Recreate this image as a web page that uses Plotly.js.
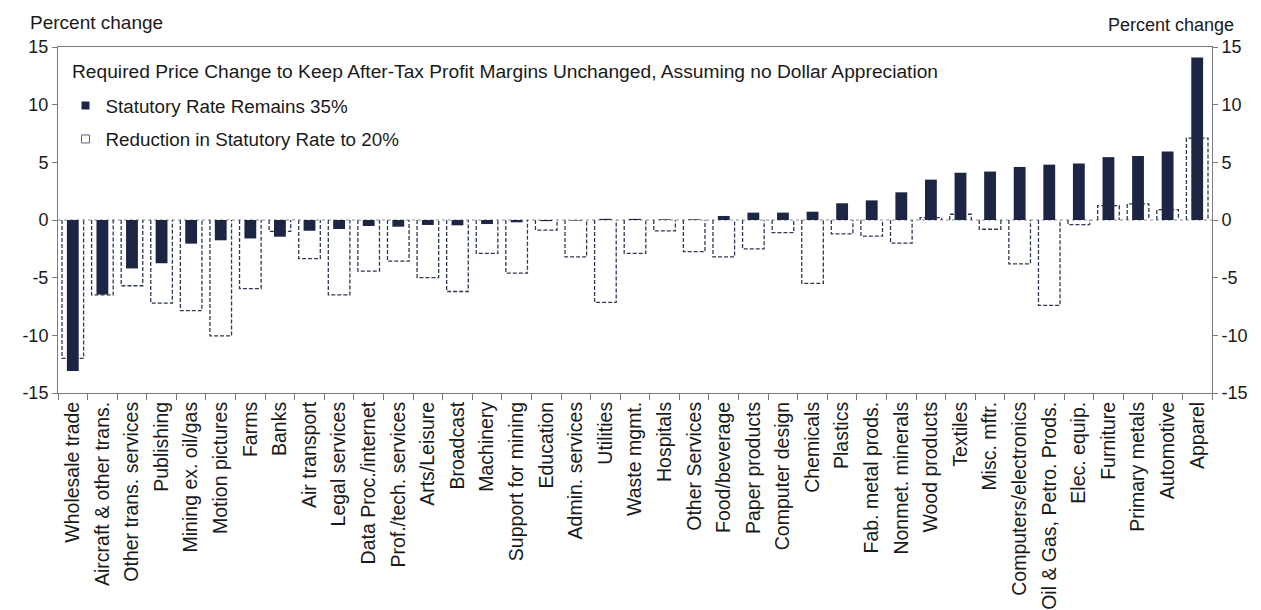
<!DOCTYPE html>
<html>
<head>
<meta charset="utf-8">
<script src="https://cdn.plot.ly/plotly-3.0.1.min.js"></script>
<style>html,body{margin:0;padding:0;background:#fff;}#chart{width:1261px;height:610px;}</style>
</head>
<body>
<div id="chart"></div>
<script>
const categories = ["Wholesale trade","Aircraft & other trans.","Other trans. services","Publishing","Mining ex. oil/gas","Motion pictures","Farms","Banks","Air transport","Legal services","Data Proc./internet","Prof./tech. services","Arts/Leisure","Broadcast","Machinery","Support for mining","Education","Admin. services","Utilities","Waste mgmt.","Hospitals","Other Services","Food/beverage","Paper products","Computer design","Chemicals","Plastics","Fab. metal prods.","Nonmet. minerals","Wood products","Textiles","Misc. mftr.","Computers/electronics","Oil & Gas, Petro. Prods.","Elec. equip.","Furniture","Primary metals","Automotive","Apparel"];

const rate35 = [-13.1,-6.45,-4.2,-3.75,-2.05,-1.76,-1.6,-1.45,-0.93,-0.78,-0.52,-0.58,-0.43,-0.46,-0.35,-0.2,-0.1,-0.05,0.1,0.1,0.06,0.06,0.35,0.64,0.64,0.72,1.45,1.7,2.4,3.5,4.1,4.2,4.6,4.8,4.9,5.45,5.55,5.95,14.1];

const rate20 = [-12.0,-6.5,-5.7,-7.2,-7.85,-10.05,-5.95,-0.98,-3.35,-6.5,-4.43,-3.57,-5.0,-6.2,-2.9,-4.6,-0.87,-3.2,-7.15,-2.9,-0.95,-2.75,-3.2,-2.5,-1.1,-5.5,-1.2,-1.4,-2.0,0.2,0.5,-0.8,-3.8,-7.4,-0.4,1.25,1.4,0.9,7.1];

const yTickVals = [-15,-10,-5,0,5,10,15];
const yTickText = ["-15","-10","-5","0","5","10","15"];

const seriesNames = ["Statutory Rate Remains 35%","Reduction in Statutory Rate to 20%"];

const navy = "#1d2545";
const dashColor = "#2f3956";
const idx = categories.map((c,i)=>i);

// dashed outline bars (reduction to 20%), built from rate20
const halfW = 0.365;
const ox = [], oy = [];
rate20.forEach((v,i)=>{
  ox.push(i-halfW, i-halfW, i+halfW, i+halfW, null);
  oy.push(0, v, v, 0, null);
});

const traces = [
  {type:"scatter", mode:"lines", x:ox, y:oy, xaxis:"x", yaxis:"y",
   line:{color:dashColor, width:1.3, dash:"4px,2px"}, showlegend:false, hoverinfo:"skip", name:seriesNames[1]},
  {type:"bar", x:idx, y:rate35, xaxis:"x2", yaxis:"y2", width:0.4,
   marker:{color:navy, line:{width:0}}, showlegend:false, name:seriesNames[0],
   customdata:categories, hovertemplate:"%{customdata}: %{y}<extra></extra>"},
  {type:"scatter", mode:"markers", x:[null], y:[null], xaxis:"x", yaxis:"y", name:seriesNames[0],
   marker:{symbol:"square", size:8, color:navy}, legendgroup:"a"},
  {type:"scatter", mode:"markers", x:[null], y:[null], xaxis:"x", yaxis:"y", name:seriesNames[1],
   marker:{symbol:"square-open", size:8, color:"#5a6380", line:{width:1}}, legendgroup:"b"}
];

const font = {family:"'Liberation Sans', Arial, sans-serif", color:"#1a1a1a"};
const axisColor = "#7a7a7a";
const xr = [-0.5, categories.length-0.5];

const layout = {
  width:1261, height:610,
  margin:{l:58, r:49, t:47, b:217},
  paper_bgcolor:"#fff", plot_bgcolor:"#fff",
  font:Object.assign({size:17}, font),
  showlegend:true,
  legend:{x:0.0065, y:0.885, xanchor:"left", yanchor:"top", bgcolor:"rgba(0,0,0,0)",
          font:Object.assign({size:18.8}, font), tracegroupgap:6, itemwidth:30},
  xaxis:{range:xr, tickvals:idx, ticktext:categories, tickangle:-90, ticks:"",
         showline:true, mirror:true, linecolor:axisColor, linewidth:1, showgrid:false, zeroline:false,
         tickfont:Object.assign({size:19.5}, font), fixedrange:true,
         minor:{tickmode:"linear", tick0:-0.5, dtick:1, ticks:"outside", ticklen:6, tickcolor:axisColor, showgrid:false}},
  xaxis2:{range:xr, overlaying:"x", visible:false, fixedrange:true},
  yaxis:{range:[-15,15], tickvals:yTickVals, ticktext:yTickText, ticks:"outside", ticklen:5, tickcolor:axisColor,
         showline:true, linecolor:axisColor, showgrid:false, zeroline:false, tickfont:Object.assign({size:18}, font)},
  yaxis2:{range:[-15,15], overlaying:"y", side:"right", tickvals:yTickVals, ticktext:yTickText, ticks:"outside", ticklen:5,
          tickcolor:axisColor, showline:true, linecolor:axisColor, showgrid:false, zeroline:false,
          tickfont:Object.assign({size:18}, font)},
  shapes:[{type:"line", xref:"paper", yref:"y", x0:0, x1:1, y0:0, y1:0, layer:"below",
           line:{color:"#8a8a8a", width:1.2, dash:"dot"}}],
  annotations:[
    {xref:"paper", yref:"paper", x:0.0104, y:0.9306, xanchor:"left", yanchor:"middle", showarrow:false,
     text:"Required Price Change to Keep After-Tax Profit Margins Unchanged, Assuming no Dollar Appreciation",
     font:Object.assign({size:19.2}, font)},
    {xref:"paper", yref:"paper", x:-0.026, y:1.072, xanchor:"left", yanchor:"middle", showarrow:false,
     text:"Percent change", font:Object.assign({size:19}, font)},
    {xref:"paper", yref:"paper", x:1.0208, y:1.0636, xanchor:"right", yanchor:"middle", showarrow:false,
     text:"Percent change", font:Object.assign({size:18}, font)}
  ]
};

Plotly.newPlot("chart", traces, layout, {displayModeBar:false, staticPlot:true});
</script>
</body>
</html>
